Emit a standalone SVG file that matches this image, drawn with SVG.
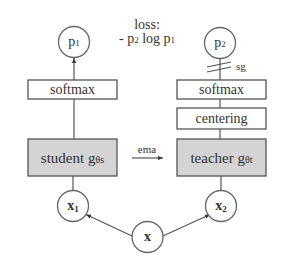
<svg xmlns="http://www.w3.org/2000/svg" width="287" height="270" viewBox="0 0 287 270">
<style>
.box{fill:#fff;stroke:#555;stroke-width:1.3}
.gbox{fill:#d4d4d4;stroke:#555;stroke-width:1.3}
.circ{fill:#fff;stroke:#666;stroke-width:1.3}
.ln{stroke:#555;stroke-width:1.2;fill:none}
text{fill:#333;text-anchor:middle}
.t{font-size:14px}
.g{font-size:15px}
.s{font-size:9px}
.l{text-anchor:start}
</style>
<defs>
<marker id="ah" markerWidth="6" markerHeight="6" refX="5" refY="3" orient="auto" markerUnits="userSpaceOnUse">
<path d="M0,1 L5,3 L0,5 Z" fill="#333"/>
</marker>
</defs>
<rect width="287" height="270" fill="#fff"/>
<g font-family="'Liberation Serif', 'DejaVu Serif', serif">
<g id="connectors">
<line class="ln" x1="74" y1="139" x2="74" y2="99"/>
<line class="ln" x1="74" y1="80" x2="74" y2="58" marker-end="url(#ah)"/>
<line class="ln" x1="73" y1="190.5" x2="73" y2="176"/>
<line class="ln" x1="220" y1="80" x2="220" y2="58.5"/>
<line class="ln" x1="207" y1="67" x2="231" y2="62"/>
<line class="ln" x1="207" y1="72" x2="231" y2="67"/>
<line class="ln" x1="220" y1="99" x2="220" y2="108"/>
<line class="ln" x1="220" y1="129" x2="220" y2="139"/>
<line class="ln" x1="221" y1="176" x2="221" y2="190"/>
<line class="ln" x1="132" y1="158" x2="163" y2="158" marker-end="url(#ah)"/>
<line class="ln" x1="132" y1="236" x2="86" y2="214.5" marker-end="url(#ah)"/>
<line class="ln" x1="163" y1="236" x2="210" y2="214.5" marker-end="url(#ah)"/>
<text class="l" x="236" y="70" font-size="11">sg</text>
<text x="147" y="153" font-size="11">ema</text>
</g>
<g id="loss">
<text class="t" x="147" y="29">loss:</text>
<text class="t" x="147" y="43">- p<tspan class="s">2</tspan> log p<tspan class="s">1</tspan></text>
</g>
<g id="p1">
<circle class="circ" cx="74" cy="42" r="15.5"/>
<text class="t" x="74" y="46">p<tspan class="s">1</tspan></text>
</g>
<g id="p2">
<circle class="circ" cx="220" cy="43" r="15.5"/>
<text class="t" x="220" y="47">p<tspan class="s">2</tspan></text>
</g>
<g id="softmax-s">
<rect class="box" x="28" y="80" width="89" height="19"/>
<text class="t" x="72.5" y="94">softmax</text>
</g>
<g id="softmax-t">
<rect class="box" x="177" y="80" width="89" height="19"/>
<text class="t" x="221.5" y="94">softmax</text>
</g>
<g id="centering">
<rect class="box" x="177" y="108" width="89" height="21"/>
<text class="t" x="221.5" y="123">centering</text>
</g>
<g id="student">
<rect class="gbox" x="28" y="139" width="89" height="37"/>
<text class="g" x="72.5" y="163">student g<tspan font-size="10">θs</tspan></text>
</g>
<g id="teacher">
<rect class="gbox" x="177" y="139" width="89" height="37"/>
<text class="g" x="221.5" y="163">teacher g<tspan font-size="10">θt</tspan></text>
</g>
<g id="x1">
<circle class="circ" cx="73" cy="206" r="15.5"/>
<text class="t" x="73" y="210" font-weight="bold">x<tspan class="s" dy="2">1</tspan></text>
</g>
<g id="x2">
<circle class="circ" cx="221" cy="206" r="15.5"/>
<text class="t" x="221" y="210" font-weight="bold">x<tspan class="s" dy="2">2</tspan></text>
</g>
<g id="x">
<circle class="circ" cx="147.5" cy="237" r="15.5"/>
<text class="t" x="147.5" y="241" font-weight="bold">x</text>
</g>
</g>
</svg>
